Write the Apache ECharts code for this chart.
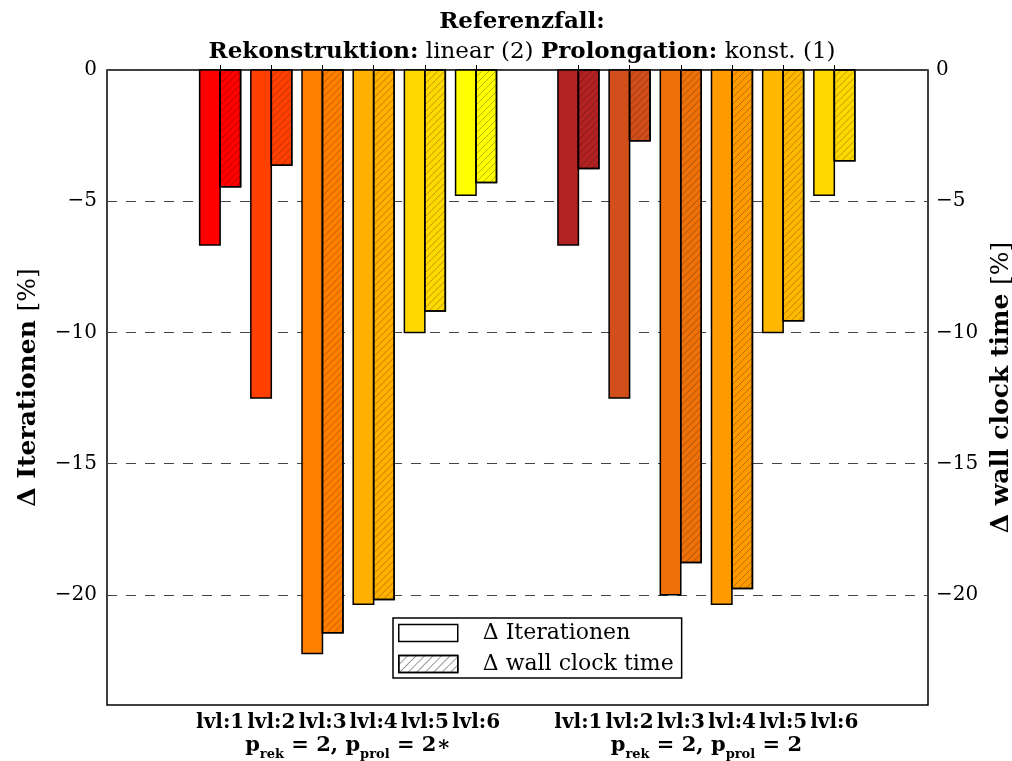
<!DOCTYPE html>
<html>
<head>
<meta charset="utf-8">
<script src="https://cdn.jsdelivr.net/npm/echarts@6/dist/echarts.min.js"></script>
<style>
  html, body { margin: 0; padding: 0; background: #fff; }
  #chart { width: 1012px; height: 761px; }
</style>
</head>
<body>
<div id="chart"></div>
<script>
// data
var levels = ['lvl:1', 'lvl:2', 'lvl:3', 'lvl:4', 'lvl:5', 'lvl:6'];
var posA = [1, 2, 3, 4, 5, 6];
var posB = [8, 9, 10, 11, 12, 13];
var iterA = [-6.67, -12.5, -22.24, -20.36, -10.0, -4.77];
var wallA = [-4.45, -3.63, -21.45, -20.18, -9.18, -4.29];
var iterB = [-6.67, -12.5, -20.0, -20.36, -10.0, -4.77];
var wallB = [-3.75, -2.70, -18.77, -19.76, -9.56, -3.46];
var colorsA = ['#ff0000', '#ff4000', '#ff8000', '#ffb000', '#ffd800', '#ffff00'];
var colorsB = ['#b22222', '#d24e1a', '#ee7008', '#ff9a00', '#ffb800', '#ffd800'];
var yTicks = [0, -5, -10, -15, -20];

var FONT = 'DejaVu Serif';
var barW = 0.4;

var ticksX = posA.concat(posB);
var colors = colorsA.concat(colorsB);
var iterData = posA.map(function (p, i) { return [p, iterA[i]]; })
  .concat(posB.map(function (p, i) { return [p, iterB[i]]; }));
var wallData = posA.map(function (p, i) { return [p, wallA[i]]; })
  .concat(posB.map(function (p, i) { return [p, wallB[i]]; }));

function makeRender(side, hatch) {
  return function (params, api) {
    var x = api.value(0), y = api.value(1);
    var a = api.coord([side < 0 ? x - barW : x, 0]);
    var b = api.coord([side < 0 ? x : x + barW, y]);
    var x0 = a[0], y0 = a[1], x1 = b[0], y1 = b[1];
    var children = [{
      type: 'rect',
      shape: { x: x0, y: y0, width: x1 - x0, height: y1 - y0 },
      style: { fill: colors[params.dataIndex], stroke: '#000', lineWidth: 1.5 }
    }];
    if (hatch) {
      var step = 7;
      for (var c = x0 + y0; c < x1 + y1; c += step) {
        var xa = Math.max(x0, c - y1), xb = Math.min(x1, c - y0);
        if (xb - xa < 0.5) continue;
        children.push({
          type: 'line',
          shape: { x1: xa, y1: c - xa, x2: xb, y2: c - xb },
          style: { stroke: 'rgba(0,0,0,0.35)', lineWidth: 0.8 }
        });
      }
      children.push({
        type: 'rect',
        shape: { x: x0, y: y0, width: x1 - x0, height: y1 - y0 },
        style: { fill: 'none', stroke: '#000', lineWidth: 1.5 }
      });
    }
    return { type: 'group', children: children };
  };
}

var chart = echarts.init(document.getElementById('chart'));
var minus = function (v) { return String(v).replace('-', '\u2212'); };

var option = {
  animation: false,
  backgroundColor: '#fff',
  textStyle: { fontFamily: FONT },
  title: {
    left: 517,
    top: 2,
    textAlign: 'center',
    text: '{b|Referenzfall:}\n{b|Rekonstruktion:}{r| linear (2) }{b|Prolongation:}{r| konst. (1)}',
    textStyle: {
      rich: {
        b: { fontFamily: FONT, fontWeight: 'bold', fontSize: 23, color: '#000', lineHeight: 30 },
        r: { fontFamily: FONT, fontWeight: 'normal', fontSize: 23, color: '#000', lineHeight: 30 }
      }
    }
  },
  legend: {
    left: 393,
    top: 618,
    orient: 'vertical',
    backgroundColor: '#fff',
    borderColor: '#000',
    borderWidth: 1.5,
    borderRadius: 0,
    padding: [4, 8, 3, 5],
    itemWidth: 59,
    itemHeight: 17,
    itemGap: 9,
    textStyle: { fontFamily: FONT, fontSize: 22, color: '#000', padding: [0, 0, 0, 20] },
    data: [
      { name: '\u0394 Iterationen', icon: 'rect',
        itemStyle: { color: '#fff', borderColor: '#000', borderWidth: 1.5 } },
      { name: '\u0394 wall clock time', icon: 'rect',
        itemStyle: { color: '#fff', borderColor: '#000', borderWidth: 1.5,
          decal: { symbol: 'rect', dashArrayX: [1, 0], dashArrayY: [1, 5], rotation: -Math.PI / 4, color: 'rgba(0,0,0,0.4)' } } }
    ]
  },
  grid: {
    left: 107, right: 84, top: 70, bottom: 56,
    outerBoundsMode: 'none',
    show: true, borderColor: '#000', borderWidth: 1.5, containLabel: false
  },
  xAxis: [{
    type: 'value',
    min: -1.21,
    max: 14.83,
    position: 'bottom',
    axisLine: { show: false },
    splitLine: { show: false },
    axisTick: { show: true, inside: true, length: 5, customValues: ticksX, lineStyle: { color: '#000', width: 1 } },
    axisLabel: {
      customValues: ticksX,
      margin: 8,
      fontFamily: FONT, fontWeight: 'bold', fontSize: 20, color: '#000',
      formatter: function (v) { return levels[(v - 1) % 7]; }
    }
  }, {
    type: 'value',
    min: -1.21,
    max: 14.83,
    position: 'bottom',
    axisLine: { show: false },
    splitLine: { show: false },
    axisTick: { show: false },
    axisLabel: {
      customValues: [3.5, 10.5],
      margin: 27,
      formatter: function (v) {
        return v < 7
          ? '{m|p}{s|rek}{m| = 2, p}{s|prol}{m| = 2\u2217}'
          : '{m|p}{s|rek}{m| = 2, p}{s|prol}{m| = 2}';
      },
      rich: {
        m: { fontFamily: FONT, fontWeight: 'bold', fontSize: 21, color: '#000', lineHeight: 24, verticalAlign: 'bottom' },
        s: { fontFamily: FONT, fontWeight: 'bold', fontSize: 13, color: '#000', lineHeight: 24, verticalAlign: 'bottom', padding: [0, 0, -5, 0] }
      }
    }
  }],
  yAxis: [{
    type: 'value',
    min: -24.2,
    max: 0,
    splitNumber: 5,
    position: 'left',
    name: '{b|\u0394 Iterationen }{r|[%]}',
    nameLocation: 'middle',
    nameRotate: 90,
    nameGap: 66,
    nameTextStyle: {
      rich: {
        b: { fontFamily: FONT, fontWeight: 'bold', fontSize: 25, color: '#000' },
        r: { fontFamily: FONT, fontWeight: 'normal', fontSize: 25, color: '#000' }
      }
    },
    axisLine: { show: false },
    axisTick: { show: false },
    axisLabel: { customValues: yTicks, fontFamily: FONT, fontSize: 20, color: '#000', margin: 10, formatter: minus },
    splitLine: { show: true, lineStyle: { color: '#444', type: [10, 9], width: 1 } }
  }, {
    type: 'value',
    min: -24.2,
    max: 0,
    splitNumber: 5,
    position: 'right',
    name: '{b|\u0394 wall clock time }{r|[%]}',
    nameLocation: 'middle',
    nameRotate: 90,
    nameGap: 49,
    nameTextStyle: {
      rich: {
        b: { fontFamily: FONT, fontWeight: 'bold', fontSize: 25, color: '#000' },
        r: { fontFamily: FONT, fontWeight: 'normal', fontSize: 25, color: '#000' }
      }
    },
    axisLine: { show: false },
    axisTick: { show: false },
    axisLabel: { customValues: yTicks, fontFamily: FONT, fontSize: 20, color: '#000', margin: 8, formatter: minus },
    splitLine: { show: false }
  }],
  series: [{
    name: '\u0394 Iterationen',
    type: 'custom',
    renderItem: makeRender(-1, false),
    encode: { x: 0, y: 1 },
    data: iterData,
    z: 3
  }, {
    name: '\u0394 wall clock time',
    type: 'custom',
    renderItem: makeRender(1, true),
    encode: { x: 0, y: 1 },
    data: wallData,
    z: 3
  }]
};

chart.setOption(option);
</script>
</body>
</html>
